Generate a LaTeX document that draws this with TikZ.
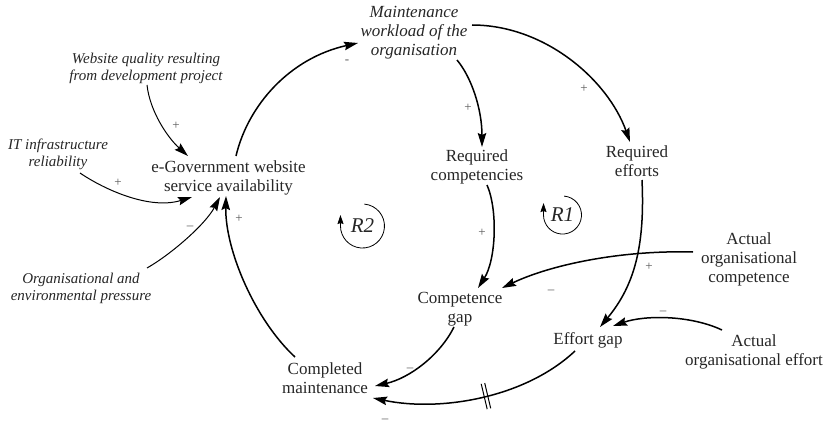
\documentclass[tikz,border=0pt]{standalone}
\usepackage{fontspec}
\setmainfont{Liberation Serif}
\usetikzlibrary{arrows.meta,decorations.markings}
\begin{document}
\begin{tikzpicture}[x=1pt,y=-1pt,
  var/.style={align=center,font=\fontsize{17}{19}\selectfont,inner sep=0pt,text=black!85},
  exo/.style={align=center,font=\fontsize{15}{17}\selectfont\itshape,inner sep=0pt,text=black!85},
  lnk/.style={line width=1.5pt,-{Stealth[length=14pt,width=8.5pt,inset=2pt]}},
  thinlnk/.style={line width=1pt,-{Stealth[length=14pt,width=8.5pt,inset=2pt]}},
  pol/.style={font=\fontsize{13}{13}\selectfont,text=black!65,inner sep=0pt},
  loopsym/.style={font=\fontsize{21}{21}\selectfont\itshape,inner sep=0pt,text=black!85},
  looparc/.style={line width=0.8pt,-{Stealth[length=9pt,width=6pt,inset=1pt]}}
]
\useasboundingbox (0,0) rectangle (825,425);

% variables
\node[var,font=\fontsize{17}{19}\selectfont\itshape] (maint) at (414,33) {Maintenance\\workload of the\\organisation};
\node[exo] (web) at (146,68.5) {Website quality resulting\\from development project};
\node[exo] (it) at (58,154) {IT infrastructure\\reliability};
\node[var] (egov) at (228.5,177.5) {e-Government website\\service availability};
\node[exo] (org) at (81,288) {Organisational and\\environmental pressure};
\node[var] (compm) at (325,378.5) {Completed\\maintenance};
\node[var] (reqc) at (477,166.5) {Required\\competencies};
\node[var] (reqe) at (637,161) {Required\\efforts};
\node[var] (compg) at (460,309) {Competence\\gap};
\node[var] (effg) at (588,340) {Effort gap};
\node[var] (aoc) at (749,259) {Actual\\organisational\\competence};
\node[var] (aoe) at (754,351.5) {Actual\\organisational effort};

% loop symbols
\node[loopsym] (r2) at (362.5,226) {R2};
\node[loopsym] (r1) at (562.5,215) {R1};
\draw[looparc] ([shift={(1.9,-21.9)}]r2.center) arc[start angle=-85,end angle=180,radius=22] -- ++(0,-11);
\draw[looparc] ([shift={(1.66,-18.9)}]r1.center) arc[start angle=-85,end angle=180,radius=19] -- ++(0,-12);

% links
\draw[lnk] ([shift={(7.5,-21.5)}]egov.center) .. controls (248,105) and (290,58) .. ([shift={(-56,10)}]maint.center);
\draw[thinlnk] ([shift={(1,16.5)}]web.center) .. controls (150,112) and (168,138) .. ([shift={(-40.5,-21.5)}]egov.center);
\draw[thinlnk] ([shift={(22,19)}]it.center) .. controls (105,190) and (150,210) .. ([shift={(-36.5,19.5)}]egov.center);
\draw[thinlnk] ([shift={(66,-20)}]org.center) .. controls (170,255) and (205,225) .. ([shift={(-8.5,19.5)}]egov.center);
\draw[lnk] ([shift={(-30,-21.5)}]compm.center) .. controls (255,320) and (225,250) .. ([shift={(-2.5,18.5)}]egov.center);
\draw[lnk] ([shift={(43,27)}]maint.center) .. controls (472,78) and (482,110) .. ([shift={(5,-19.5)}]reqc.center);
\draw[lnk] ([shift={(58,-8)}]maint.center) .. controls (545,25) and (608,80) .. ([shift={(-7,-19)}]reqe.center);
\draw[lnk] ([shift={(10,18.5)}]reqc.center) .. controls (498,210) and (496,260) .. ([shift={(18,-21)}]compg.center);
\draw[lnk] ([shift={(5,19)}]reqe.center) .. controls (645,245) and (635,285) .. ([shift={(12,-13)}]effg.center);
\draw[lnk] ([shift={(-56,-7)}]aoc.center) .. controls (620,250) and (550,265) .. ([shift={(42,-21)}]compg.center);
\draw[lnk] ([shift={(-32,-21.5)}]aoe.center) .. controls (690,315) and (645,315) .. ([shift={(25,-14)}]effg.center);
\draw[lnk] ([shift={(-6,18)}]compg.center) .. controls (440,355) and (410,378) .. ([shift={(50,7.5)}]compm.center);
\draw[lnk,postaction={decorate,decoration={markings,mark=at position 0.47 with {\draw[line width=1pt,-] (-1.8,-13) -- (-1.8,13) (1.8,-13) -- (1.8,13);}}}]
  ([shift={(-13,11)}]effg.center) .. controls (525,398) and (440,412) .. ([shift={(48,19.5)}]compm.center);

% polarities
\node[pol] (s1) at (347,62) {-};
\node[pol] (s2) at (176,126) {+};
\node[pol] (s3) at (118,183) {+};
\node[pol] (s4) at (190,228) {–};
\node[pol] (s5) at (239,219) {+};
\node[pol] (s6) at (468,108) {+};
\node[pol] (s7) at (584,89) {+};
\node[pol] (s8) at (482,233) {+};
\node[pol] (s9) at (649,267) {+};
\node[pol] (s10) at (551,292) {–};
\node[pol] (s11) at (663,313) {–};
\node[pol] (s12) at (410,370) {–};
\node[pol] (s13) at (385,421) {–};
\end{tikzpicture}
\end{document}
